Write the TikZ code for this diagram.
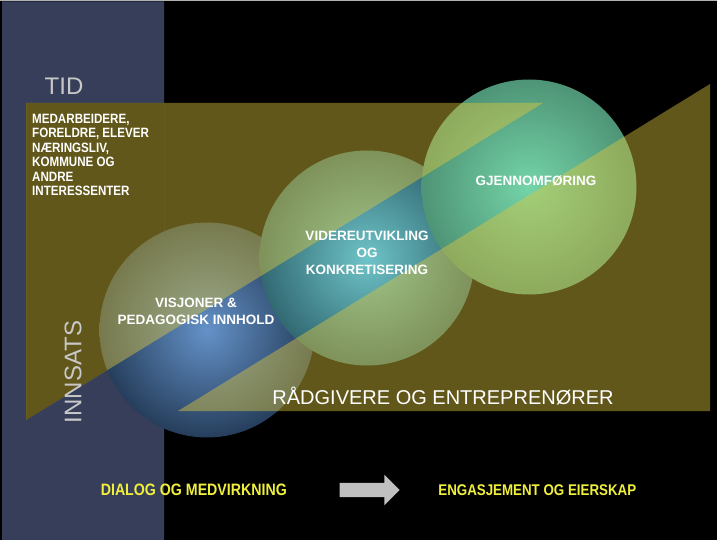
\documentclass[tikz,border=0pt]{standalone}
\usepackage{fontspec}
\setmainfont{Liberation Sans}
\newfontfamily\narrowfont[FakeStretch=0.86]{Liberation Sans}
\usetikzlibrary{shapes.arrows,positioning}

\definecolor{bandblue}{RGB}{54,62,90}
\definecolor{veilyellow}{RGB}{225,200,60}
\definecolor{axisgray}{RGB}{200,200,200}
\definecolor{sloganyellow}{RGB}{240,240,60}
\definecolor{arrowgray}{RGB}{192,192,192}

\begin{document}
\begin{tikzpicture}[x=1pt, y=-1pt]
\tikzstyle{ball}=[circle, minimum size=215pt, inner sep=0pt]
\tikzstyle{veil}=[fill=veilyellow, fill opacity=0.44]
\tikzstyle{axis}=[text=axisgray, font=\fontsize{24}{24}\selectfont]
\tikzstyle{phase}=[text=white, align=center, font=\fontsize{13.5}{17}\selectfont\bfseries]
\tikzstyle{slogan}=[text=sloganyellow, font=\narrowfont\fontsize{16.5}{16.5}\selectfont\bfseries]
\useasboundingbox (0,0) rectangle (717,540);
\fill[black] (0,0) rectangle (717,540);
\fill[gray!60] (0,0) rectangle (717,1.5);
% time/effort band, left out where the upper veil lies
\begin{scope}
\clip (2,1.5) rectangle (164,540);
\fill[bandblue, even odd rule] (2,1.5) rectangle (164,540) (26,103) -- (543,103) -- (26,420) -- cycle;
\end{scope}
% the three phases
\node[ball, inner color={rgb,255:red,100;green,146;blue,200}, outer color={rgb,255:red,38;green,62;blue,92}] (visjon) at (207,330) {};
\node[ball, inner color={rgb,255:red,110;green,196;blue,200}, outer color={rgb,255:red,50;green,105;blue,115}] (videre) at (367,258) {};
\node[ball, inner color={rgb,255:red,116;green,212;blue,168}, outer color={rgb,255:red,78;green,148;blue,118}] (gjennom) at (529,187) {};
% stakeholders and advisers
\fill[veil] (26,103) -- (543,103) -- (26,420) -- cycle;
\fill[veil] (178,411) -- (710,411) -- (710,84) -- cycle;
\node[axis] (tid) at (64,86) {TID};
\node[axis, rotate=90] (innsats) at (73,372) {INNSATS};
\node[anchor=north west, text=white, align=left, inner sep=0pt, font=\narrowfont\fontsize{13.5}{14.4}\selectfont\bfseries] (aktorer) at (32,114)
  {MEDARBEIDERE,\\FORELDRE, ELEVER\\NÆRINGSLIV,\\KOMMUNE OG\\ANDRE\\INTERESSENTER};
\node[phase] (visjonlbl) at (196,311) {VISJONER \&\\PEDAGOGISK INNHOLD};
\node[phase] (viderelbl) at (367,253) {VIDEREUTVIKLING\\OG\\KONKRETISERING};
\node[phase] (gjennomlbl) at (536,181) {GJENNOMFØRING};
\node[text=white, font=\fontsize{20}{20}\selectfont] (radgivere) at (443,396) {RÅDGIVERE OG ENTREPRENØRER};
% from dialogue to ownership
\node[single arrow, fill=arrowgray, inner sep=7pt, minimum height=60pt, single arrow head extend=8pt] (flow) at (366,490) {};
\node[slogan, left=49pt of flow] (dialog) {DIALOG OG MEDVIRKNING};
\node[slogan, right=35pt of flow, font=\narrowfont\fontsize{15.5}{15.5}\selectfont\bfseries] (eierskap) {ENGASJEMENT OG EIERSKAP};
\end{tikzpicture}
\end{document}
